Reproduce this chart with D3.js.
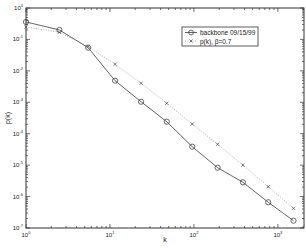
<!DOCTYPE html>
<html><head><meta charset="utf-8">
<script src="https://cdn.jsdelivr.net/npm/d3@7"></script>
<style>body{margin:0;background:#fff}svg{display:block;font-family:"Liberation Sans",Arial,sans-serif}</style>
</head><body><svg id="c" width="306" height="248"></svg>
<script>
const kValues = [1, 2.5, 5.5, 11.5, 23.5, 47.5, 95.5, 191.5, 383.5, 767.5, 1535.5];
const backbone = [0.36, 0.20, 0.0546, 0.00486, 1.04e-3, 2.41e-4, 3.86e-5, 8.3e-6, 2.85e-6, 6.6e-7, 1.71e-7];
const powerLaw = [0.248, 0.169, 0.0596, 0.0162, 4.02e-3, 9.3e-4, 2.04e-4, 4.6e-5, 1.01e-5, 2.06e-6, 4.24e-7];
const xTickExps = [0, 1, 2, 3];
const yTickExps = [0, -1, -2, -3, -4, -5, -6, -7];
const legendLabels = ["backbone 09/15/99", "p(k),  \u03b2=0.7"];

const svg = d3.select("#c");
const L = 26, R = 304, T = 8, B = 228;
const x = d3.scaleLog().domain([1, 2048]).range([L, R]);
const y = d3.scaleLog().domain([1e-7, 1]).range([B, T]);

// minor ticks
const minorX = [];
for (let e = 0; e <= 3; e++) for (let m = 1; m <= 9; m++) { const v = m * Math.pow(10, e); if (v <= 2048) minorX.push(v); }
const minorY = [];
for (let e = -7; e < 0; e++) for (let m = 1; m <= 9; m++) minorY.push(m * Math.pow(10, e));
minorY.push(1);

const g = svg.append("g");
const tickCol = "#333";
// box
g.append("rect").attr("x", L).attr("y", T).attr("width", R - L).attr("height", B - T)
  .attr("fill", "none").attr("stroke", "#333").attr("stroke-width", 1);

minorX.forEach(v => {
  const major = Math.abs(Math.log10(v) - Math.round(Math.log10(v))) < 1e-9;
  const len = major ? 4 : 2;
  const px = x(v);
  g.append("line").attr("x1", px).attr("x2", px).attr("y1", B).attr("y2", B - len).attr("stroke", tickCol).attr("stroke-width", 0.7);
  g.append("line").attr("x1", px).attr("x2", px).attr("y1", T).attr("y2", T + len).attr("stroke", tickCol).attr("stroke-width", 0.7);
});
minorY.forEach(v => {
  const major = Math.abs(Math.log10(v) - Math.round(Math.log10(v))) < 1e-9;
  const len = major ? 4 : 2;
  const py = y(v);
  g.append("line").attr("x1", L).attr("x2", L + len).attr("y1", py).attr("y2", py).attr("stroke", tickCol).attr("stroke-width", 0.7);
  g.append("line").attr("x1", R).attr("x2", R - len).attr("y1", py).attr("y2", py).attr("stroke", tickCol).attr("stroke-width", 0.7);
});

// tick labels
xTickExps.forEach(e => {
  const t = g.append("text").attr("x", x(Math.pow(10, e))).attr("y", B + 9).attr("text-anchor", "middle")
    .attr("font-size", 6).attr("fill", "#222");
  t.append("tspan").text("10");
  t.append("tspan").attr("dy", -3).attr("font-size", 4).text(e);
});
yTickExps.forEach(e => {
  const t = g.append("text").attr("x", L - 3).attr("y", y(Math.pow(10, e)) + 2).attr("text-anchor", "end")
    .attr("font-size", 6).attr("fill", "#222");
  t.append("tspan").text("10");
  t.append("tspan").attr("dy", -3).attr("font-size", 4).text(e);
});

// axis labels
svg.append("text").attr("x", (L + R) / 2).attr("y", 242).attr("text-anchor", "middle").attr("font-size", 7).attr("fill", "#222").text("k");
svg.append("text").attr("transform", `translate(10,${(T + B) / 2}) rotate(-90)`).attr("text-anchor", "middle").attr("font-size", 7).attr("fill", "#222").text("p(k)");

const line = d3.line().x(d => x(d[0])).y(d => y(d[1]));
const bbData = kValues.map((k, i) => [k, backbone[i]]);
const plData = kValues.map((k, i) => [k, powerLaw[i]]);

svg.append("path").attr("d", line(plData)).attr("fill", "none").attr("stroke", "#999").attr("stroke-width", 0.8).attr("stroke-dasharray", "1,1.5");
svg.append("path").attr("d", line(bbData)).attr("fill", "none").attr("stroke", "#555").attr("stroke-width", 0.9);

function cross(sel, cx, cy, s) {
  sel.append("path").attr("d", `M${cx - s},${cy - s}L${cx + s},${cy + s}M${cx - s},${cy + s}L${cx + s},${cy - s}`)
    .attr("stroke", "#444").attr("stroke-width", 0.7).attr("fill", "none");
}
plData.forEach(d => cross(svg, x(d[0]), y(d[1]), 1.6));
svg.selectAll("circle.bb").data(bbData).enter().append("circle").attr("class", "bb")
  .attr("cx", d => x(d[0])).attr("cy", d => y(d[1])).attr("r", 2.6)
  .attr("fill", "none").attr("stroke", "#444").attr("stroke-width", 0.8);

// legend
const lg = svg.append("g");
lg.append("rect").attr("x", 182).attr("y", 27).attr("width", 76).attr("height", 19).attr("fill", "#fff").attr("stroke", "#333").attr("stroke-width", 0.8);
lg.append("line").attr("x1", 185).attr("x2", 197).attr("y1", 32.5).attr("y2", 32.5).attr("stroke", "#555").attr("stroke-width", 0.9);
lg.append("circle").attr("cx", 191).attr("cy", 32.5).attr("r", 2.4).attr("fill", "none").attr("stroke", "#444").attr("stroke-width", 0.8);
lg.append("line").attr("x1", 185).attr("x2", 197).attr("y1", 41).attr("y2", 41).attr("stroke", "#999").attr("stroke-width", 0.8).attr("stroke-dasharray", "1,1.5");
cross(lg, 191, 41, 1.5);
lg.append("text").attr("x", 200).attr("y", 35).attr("font-size", 6.5).attr("fill", "#222").text(legendLabels[0]);
lg.append("text").attr("x", 200).attr("y", 43.5).attr("font-size", 6.5).attr("fill", "#222").text(legendLabels[1]);
</script></body></html>
